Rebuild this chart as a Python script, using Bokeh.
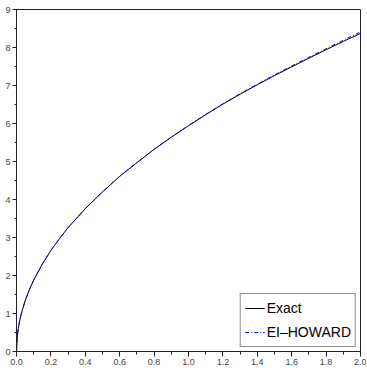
from bokeh.plotting import figure
from bokeh.models import Range1d, FixedTicker, Legend, LegendItem, NumeralTickFormatter
from bokeh.embed import file_html
from bokeh.resources import INLINE

x_vals = [0, 0.005, 0.01, 0.02, 0.03, 0.05, 0.075, 0.1, 0.15, 0.2, 0.25, 0.3, 0.4, 0.5,
          0.6, 0.7, 0.8, 0.9, 1.0, 1.1, 1.2, 1.3, 1.4, 1.5, 1.6, 1.7, 1.8, 1.9, 2.0]
exact = [0, 0.42, 0.60, 0.84, 1.03, 1.33, 1.63, 1.88, 2.30, 2.66, 2.97, 3.26, 3.76, 4.20,
         4.61, 4.97, 5.32, 5.64, 5.94, 6.23, 6.51, 6.77, 7.02, 7.26, 7.49, 7.72, 7.94, 8.16, 8.37]
howard = [0, 0.42, 0.60, 0.84, 1.03, 1.33, 1.63, 1.88, 2.30, 2.66, 2.97, 3.26, 3.76, 4.20,
          4.61, 4.97, 5.32, 5.64, 5.95, 6.24, 6.52, 6.785, 7.035, 7.28, 7.515, 7.745, 7.97, 8.19, 8.41]
x_ticks = [0.0, 0.2, 0.4, 0.6, 0.8, 1.0, 1.2, 1.4, 1.6, 1.8, 2.0]
y_ticks = [0, 1, 2, 3, 4, 5, 6, 7, 8, 9]

FONT = "Liberation Sans"

p = figure(frame_width=344, frame_height=342, output_backend="svg", toolbar_location=None,
           x_range=Range1d(0, 2), y_range=Range1d(0, 9),
           min_border_left=16, min_border_top=9, min_border_right=6, min_border_bottom=0)
p.background_fill_color = "white"
p.border_fill_color = "white"
p.outline_line_color = "#222222"
p.outline_line_width = 1
p.xgrid.visible = False
p.ygrid.visible = False

p.xaxis.ticker = FixedTicker(ticks=x_ticks, minor_ticks=[i / 10 for i in range(21)])
p.yaxis.ticker = FixedTicker(ticks=y_ticks, minor_ticks=[i / 2 for i in range(19)])
p.xaxis.formatter = NumeralTickFormatter(format="0.0")

for ax in (p.xaxis, p.yaxis):
    ax.axis_line_color = "#222222"
    ax.major_tick_line_color = "#222222"
    ax.minor_tick_line_color = "#222222"
    ax.major_tick_in = 0
    ax.minor_tick_in = 0
    ax.major_label_text_font = FONT
    ax.major_label_text_font_size = "9px"
    ax.major_label_text_color = "#444444"
    ax.major_label_standoff = 2
p.xaxis.major_tick_out = 5
p.xaxis.minor_tick_out = 3
p.yaxis.major_tick_out = 4
p.yaxis.minor_tick_out = 2

r1 = p.line(x_vals, exact, line_color="black", line_width=1)
r2 = p.line(x_vals, howard, line_color="#0000ff", line_width=1, line_dash="4 2 1 2")

legend = Legend(items=[LegendItem(label="Exact", renderers=[r1]),
                       LegendItem(label="EI\u2013HOWARD", renderers=[r2])],
                location="bottom_right")
legend.margin = 4
legend.padding = 4
legend.spacing = 4
legend.glyph_width = 20
legend.glyph_height = 20
legend.label_height = 20
legend.label_standoff = 2
legend.label_text_font = FONT
legend.label_text_font_size = "14px"
legend.label_text_color = "black"
legend.border_line_color = "#222222"
legend.border_line_width = 1
legend.background_fill_alpha = 1
p.add_layout(legend)

open("out.html", "w").write(file_html(p, INLINE))
